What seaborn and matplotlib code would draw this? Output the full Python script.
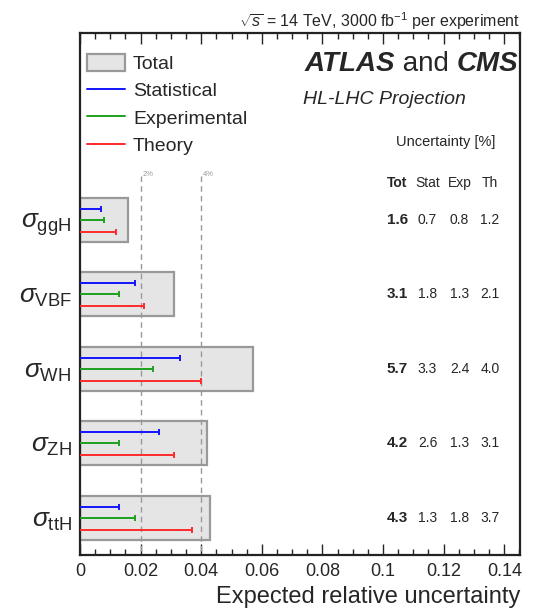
import matplotlib
matplotlib.use("Agg")
import matplotlib.pyplot as plt
import matplotlib.transforms as mtransforms
from matplotlib.patches import Patch
from matplotlib.lines import Line2D
from matplotlib.ticker import MultipleLocator
import seaborn as sns
import pandas as pd

# Production modes and expected relative uncertainties (fractions)
processes = ["ggH", "VBF", "WH", "ZH", "ttH"]
total = [0.016, 0.031, 0.057, 0.042, 0.043]
stat = [0.007, 0.018, 0.033, 0.026, 0.013]
expt = [0.008, 0.013, 0.024, 0.013, 0.018]
theory = [0.012, 0.021, 0.040, 0.031, 0.037]

tick_labels = [r"$\sigma_{\mathrm{%s}}$" % p for p in processes]
x_ticks = [0, 0.02, 0.04, 0.06, 0.08, 0.1, 0.12, 0.14]
x_tick_text = ["0", "0.02", "0.04", "0.06", "0.08", "0.1", "0.12", "0.14"]

sns.set_style("ticks")
plt.rcParams["font.family"] = ["Liberation Sans", "DejaVu Sans"]
plt.rcParams["mathtext.fontset"] = "custom"
plt.rcParams["mathtext.rm"] = "Liberation Sans"
plt.rcParams["mathtext.it"] = "Liberation Sans:italic"

BLUE, GREEN, RED = "#1414ff", "#1ea01e", "#ff2a2a"
FILL, EDGE = "#e5e5e5", "#999999"

df = pd.DataFrame({"process": processes, "total": total})

fig = plt.figure(figsize=(5.49, 6.10), dpi=100)
ax = fig.add_axes([0.1457, 0.0902, 0.8015, 0.855])

sns.barplot(data=df, y="process", x="total", orient="h", ax=ax,
            color=FILL, edgecolor=EDGE, linewidth=1.6,
            width=0.59, saturation=1)

components = [(stat, BLUE, -0.145), (expt, GREEN, 0.0), (theory, RED, 0.16)]
for vals, col, off in components:
    ys = [i + off for i in range(len(processes))]
    ax.hlines(ys, 0, vals, color=col, lw=1.4, zorder=3)
    ax.plot(vals, ys, ls="none", marker="|", ms=5, mew=1.4, color=col, zorder=3)

# Reference lines at 2% and 4%
for xv, lab in [(0.02, "2%"), (0.04, "4%")]:
    ax.vlines(xv, -0.58, 4.5, colors="#999999", linestyles=(0, (4, 3)), lw=1.0, zorder=1)
    ax.text(xv + 0.0007, -0.6, lab, fontsize=5.5, color="#999999", va="center", ha="left")

ax.set_xlim(0, 0.1452)
ax.set_ylim(4.5, -2.5)
ax.set_xticks(x_ticks)
ax.set_xticklabels(x_tick_text, fontsize=13)
ax.xaxis.set_minor_locator(MultipleLocator(0.005))
ax.tick_params(axis="x", which="major", direction="in", length=8, width=1.0, top=True, pad=6)
ax.tick_params(axis="x", which="minor", direction="in", length=4, width=1.0, top=True)
ax.set_yticks(range(len(processes)))
ax.set_yticklabels(tick_labels, fontsize=19)
ax.tick_params(axis="y", which="both", length=0, pad=6)
ax.set_ylabel("")
ax.set_xlabel("Expected relative uncertainty", fontsize=17, loc="right", labelpad=4)
for s in ax.spines.values():
    s.set_visible(True)
    s.set_linewidth(1.6)
    s.set_color("#222222")

# Header texts
fig.text(0.947, 0.9656, r"$\sqrt{s}$ = 14 TeV, 3000 fb$^{-1}$ per experiment",
         fontsize=11.5, ha="right", va="center")
t1 = ax.text(0.511, 0.9415, "ATLAS", transform=ax.transAxes, fontsize=20, fontweight="bold",
             style="italic", ha="left", va="center")
t2 = ax.annotate(" and ", xy=(1, 0.5), xycoords=t1, fontsize=20, ha="left", va="center")
ax.annotate("CMS", xy=(1, 0.5), xycoords=t2, fontsize=20, fontweight="bold",
            style="italic", ha="left", va="center")
ax.text(0.507, 0.8725, "HL-LHC Projection", transform=ax.transAxes, fontsize=14,
        style="italic", ha="left", va="center")
ax.text(0.8307, 0.7925, "Uncertainty [%]", transform=ax.transAxes, fontsize=10.5,
        ha="center", va="center")

# Table of uncertainties in percent (x in axes fraction, y in data)
trans = mtransforms.blended_transform_factory(ax.transAxes, ax.transData)
col_x = [0.7216, 0.7898, 0.8625, 0.9318]
headers = ["Tot", "Stat", "Exp", "Th"]
for cx, h in zip(col_x, headers):
    ax.text(cx, -0.49, h, fontsize=10, ha="center", va="center", transform=trans,
            fontweight="bold" if h == "Tot" else "normal")
for i in range(len(processes)):
    row = [total[i], stat[i], expt[i], theory[i]]
    for j, (cx, v) in enumerate(zip(col_x, row)):
        ax.text(cx, i, f"{v * 100:.1f}", fontsize=11 if j == 0 else 10,
                ha="center", va="center", transform=trans,
                fontweight="bold" if j == 0 else "normal")

handles = [Patch(facecolor=FILL, edgecolor=EDGE, linewidth=1.6),
           Line2D([], [], color=BLUE, lw=1.4),
           Line2D([], [], color=GREEN, lw=1.4),
           Line2D([], [], color=RED, lw=1.4)]
ax.legend(handles, ["Total", "Statistical", "Experimental", "Theory"],
          loc="upper left", bbox_to_anchor=(87 / 549, 1 - 54 / 610),
          bbox_transform=fig.transFigure, frameon=False, fontsize=14,
          handlelength=1.96, handleheight=0.95, labelspacing=0.43, handletextpad=0.4,
          borderaxespad=0, borderpad=0)

fig.savefig("out.png", dpi=100)
